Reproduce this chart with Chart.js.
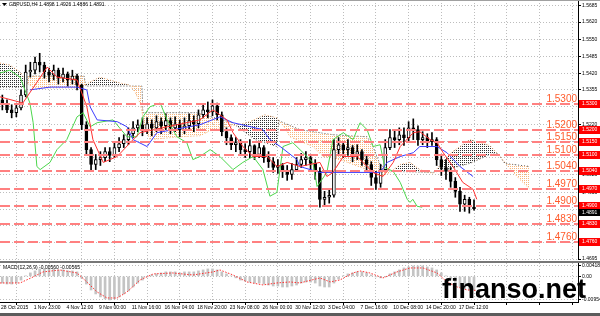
<!DOCTYPE html>
<html>
<head>
<meta charset="utf-8">
<script src="https://cdn.jsdelivr.net/npm/chart.js@4.4.0/dist/chart.umd.min.js"></script>
<style>
  html, body { margin: 0; padding: 0; background: #fff; }
  #wrap { position: relative; width: 600px; height: 316px; overflow: hidden; background: #fff; }
  #priceChart { position: absolute; left: 0; top: 0; }
  #macdChart { position: absolute; left: 0; top: 263px; }
  .band { position: absolute; left: 0; width: 600px; }
  #mark { position: absolute; left: 442px; top: 274px; line-height: 26px; font: bold 27px "Liberation Sans", Arial, sans-serif; color: #000; white-space: nowrap; }
</style>
</head>
<body>
<div id="wrap">
  <canvas id="priceChart" width="600" height="261"></canvas>
  <div class="band" style="top:0;height:1px;background:#a0a0a0"></div>
  <div class="band" style="top:261px;height:2px;background:#777"></div>
  <canvas id="macdChart" width="600" height="53"></canvas>
  <div class="band" style="top:313px;height:3px;background:#5c5c5c"></div>
  <div id="mark">finanso.net</div>
</div>
<script>
// GBPUSD H4, one entry per candle
const firstOpen = 1.5316;
const closes = [1.5297,1.5277,1.5266,1.5285,1.5335,1.5425,1.5432,1.5463,1.5452,1.5425,
  1.5413,1.5432,1.5401,1.5417,1.5394,1.5409,1.5374,1.5219,1.5122,1.5064,
  1.5083,1.5091,1.5114,1.5099,1.5130,1.5145,1.5161,1.5184,1.5207,1.5219,
  1.5200,1.5223,1.5207,1.5231,1.5215,1.5235,1.5207,1.5223,1.5200,1.5215,
  1.5235,1.5223,1.5258,1.5277,1.5269,1.5293,1.5258,1.5192,1.5169,1.5141,
  1.5149,1.5122,1.5114,1.5138,1.5103,1.5130,1.5091,1.5075,1.5052,1.5060,
  1.5037,1.5025,1.5044,1.5064,1.5083,1.5091,1.5068,1.5037,1.4928,1.4936,
  1.4944,1.5122,1.5141,1.5122,1.5130,1.5103,1.5114,1.5083,1.5064,1.5013,
  1.4990,1.5044,1.5130,1.5169,1.5161,1.5180,1.5169,1.5207,1.5200,1.5161,
  1.5169,1.5153,1.5161,1.5083,1.5052,1.5037,1.4998,1.4959,1.4909,1.4928,
  1.4898,1.4891];
const highs = [1.5335,1.5316,1.5297,1.5300,1.5355,1.5452,1.5463,1.5483,1.5498,1.5463,
  1.5440,1.5452,1.5440,1.5440,1.5425,1.5432,1.5417,1.5378,1.5231,1.5130,
  1.5103,1.5114,1.5130,1.5130,1.5153,1.5169,1.5180,1.5207,1.5231,1.5238,
  1.5246,1.5246,1.5238,1.5254,1.5246,1.5262,1.5246,1.5250,1.5238,1.5246,
  1.5262,1.5254,1.5277,1.5300,1.5308,1.5316,1.5304,1.5269,1.5207,1.5180,
  1.5169,1.5161,1.5145,1.5161,1.5141,1.5153,1.5138,1.5114,1.5091,1.5083,
  1.5068,1.5060,1.5068,1.5091,1.5107,1.5114,1.5103,1.5083,1.5052,1.4959,
  1.4967,1.5161,1.5169,1.5153,1.5161,1.5138,1.5141,1.5122,1.5099,1.5075,
  1.5037,1.5064,1.5161,1.5200,1.5200,1.5207,1.5207,1.5231,1.5242,1.5215,
  1.5192,1.5184,1.5188,1.5169,1.5099,1.5083,1.5052,1.5013,1.4975,1.4944,
  1.4936,1.4926];
const lows = [1.5277,1.5266,1.5246,1.5250,1.5277,1.5328,1.5405,1.5417,1.5425,1.5401,
  1.5386,1.5394,1.5378,1.5386,1.5370,1.5378,1.5355,1.5200,1.5103,1.5037,
  1.5044,1.5060,1.5075,1.5075,1.5091,1.5114,1.5130,1.5141,1.5169,1.5192,
  1.5176,1.5184,1.5176,1.5192,1.5184,1.5200,1.5184,1.5192,1.5172,1.5184,
  1.5200,1.5192,1.5207,1.5246,1.5246,1.5254,1.5238,1.5176,1.5141,1.5122,
  1.5114,1.5103,1.5091,1.5091,1.5083,1.5091,1.5072,1.5052,1.5033,1.5029,
  1.5013,1.5002,1.5006,1.5037,1.5052,1.5060,1.5044,1.5006,1.4897,1.4905,
  1.4913,1.4936,1.5099,1.5091,1.5099,1.5075,1.5083,1.5060,1.5037,1.4982,
  1.4967,1.4975,1.5037,1.5122,1.5130,1.5141,1.5138,1.5153,1.5161,1.5138,
  1.5141,1.5130,1.5138,1.5060,1.5021,1.5006,1.4975,1.4936,1.4881,1.4881,
  1.4874,1.4886];

// Ichimoku lines as [candle index, price]
const tenkan = [[-0.5,1.5328],[4.4,1.5304],[9.6,1.5444],[11.7,1.5405],[16,1.5394],[18.1,1.5289],[19.4,1.5161],
  [21.6,1.5072],[24.6,1.5095],[28,1.5161],[29.5,1.5188],[35.3,1.5211],[42.3,1.5238],[45.1,1.5277],[48.1,1.5238],
  [49.4,1.5188],[51.5,1.5134],[53.7,1.5095],[56.7,1.5095],[58.8,1.5056],[61,1.5072],[63.7,1.5056],[68,1.5072],
  [69.5,1.5017],[70.8,1.5033],[73,1.5095],[76,1.5095],[77.2,1.5072],[79.4,1.5033],[81.5,1.5017],[83.7,1.5072],
  [85.2,1.5134],[88,1.5188],[89.4,1.5192],[91.6,1.5161],[93.1,1.5149],[94.4,1.5110],[96.5,1.5056],[98.6,1.4994],
  [100.8,1.4967],[101.6,1.4928]];
const kijun = [[5.9,1.5355],[10.2,1.5366],[16,1.5366],[18.1,1.5355],[18.8,1.5289],[20.3,1.5238],[24.6,1.5231],
  [26.7,1.5211],[28,1.5161],[31,1.5134],[33.1,1.5188],[42.3,1.5219],[46.6,1.5250],[49.4,1.5227],[55.8,1.5200],
  [57.3,1.5161],[59.5,1.5134],[63.1,1.5083],[63.7,1.5056],[68,1.5033],[80.9,1.5033],[82.4,1.5072],[85.2,1.5095],
  [88,1.5110],[89.4,1.5134],[93.1,1.5134],[95.2,1.5110],[98,1.5056],[100.8,1.5017]];
const chikou = [[-0.5,1.5421],[1.6,1.5432],[3.8,1.5405],[5.9,1.5304],[6.6,1.5227],[7.4,1.5056],[8.1,1.5044],
  [10.2,1.5072],[11.7,1.5122],[13.8,1.5161],[16,1.5250],[17.3,1.5266],[18.8,1.5211],[20.3,1.5227],[23.7,1.5238],
  [26.7,1.5172],[28.8,1.5172],[30.1,1.5250],[31.6,1.5289],[33.8,1.5304],[35.3,1.5238],[37.4,1.5172],[39.5,1.5149],
  [40.8,1.5083],[42.3,1.5095],[44.5,1.5122],[46.6,1.5095],[49.4,1.5044],[51.5,1.5072],[53.7,1.5095],[55.8,1.5044],
  [57.3,1.4940],[58.8,1.4955],[60.1,1.5134],[62.2,1.5149],[64.4,1.5110],[66.5,1.5072],[67.4,1.4978],[69.5,1.5033],
  [70.8,1.5161],[73,1.5188],[75.1,1.5161],[76.6,1.5227],[78.1,1.5200],[79.4,1.5134],[80.9,1.5141],[81.9,1.5052],
  [83.7,1.5037],[85.2,1.4994],[86.7,1.4928],[87.3,1.4916],[87.9,1.4928],[88.8,1.4901],[89.9,1.4897]];
const spanA = [[-0.5,1.5460],[1.6,1.5452],[3.8,1.5425],[5.5,1.5378],[6.8,1.5363],[16.6,1.5363],[18.8,1.5386],
  [20.9,1.5405],[25.2,1.5382],[27.3,1.5374],[28.4,1.5347],[29.5,1.5304],[30.5,1.5215],[31.6,1.5161],[38,1.5172],
  [42.3,1.5176],[44.5,1.5196],[46.6,1.5207],[49.4,1.5215],[53,1.5231],[56.2,1.5258],[58.8,1.5246],[60.5,1.5207],
  [61.6,1.5172],[66.5,1.5134],[68.7,1.5095],[72.3,1.5083],[78.1,1.5044],[80.9,1.5017],[83,1.5033],[85.2,1.5064],
  [87.3,1.5072],[89.4,1.5044],[92.2,1.5029],[93.7,1.5060],[95.9,1.5107],[98,1.5134],[100.1,1.5161],[102.3,1.5149],
  [104.4,1.5138],[106.6,1.5095],[108.7,1.5048],[110.8,1.5006],[113,1.4967]];
const spanB = [[-0.5,1.5366],[5.1,1.5366],[5.5,1.5409],[17.5,1.5409],[17.9,1.5370],[29.9,1.5370],[30.1,1.5266],
  [41.5,1.5266],[45.5,1.5246],[49.2,1.5227],[54.1,1.5161],[58.8,1.5134],[59.2,1.5235],[63.7,1.5200],[70.8,1.5180],
  [78.1,1.5172],[79.2,1.5141],[80.9,1.5064],[83,1.5037],[92.2,1.5033],[95.9,1.5048],[100.1,1.5068],[104.4,1.5103],
  [106.1,1.5107],[107.6,1.5068],[113,1.5056]];

// MACD(12,26,9)
const macdMain = [-0.0027,-0.0031,-0.0031,-0.0027,-0.0015,0.0002,0.0014,0.0022,0.0030,0.0030,
  0.0030,0.0030,0.0026,0.0026,0.0022,0.0022,0.0018,-0.0007,-0.0031,-0.0055,
  -0.0071,-0.0083,-0.0091,-0.0095,-0.0091,-0.0083,-0.0071,-0.0059,-0.0043,-0.0027,
  -0.0015,-0.0002,0.0006,0.0010,0.0014,0.0018,0.0018,0.0018,0.0014,0.0018,
  0.0018,0.0018,0.0022,0.0026,0.0030,0.0030,0.0026,0.0018,0.0010,0.0002,
  -0.0006,-0.0015,-0.0019,-0.0023,-0.0027,-0.0027,-0.0031,-0.0035,-0.0039,-0.0039,
  -0.0043,-0.0043,-0.0039,-0.0035,-0.0027,-0.0023,-0.0023,-0.0027,-0.0039,-0.0043,
  -0.0043,-0.0027,-0.0011,0.0002,0.0010,0.0014,0.0018,0.0018,0.0014,0.0006,
  -0.0002,-0.0006,-0.0002,0.0010,0.0018,0.0026,0.0034,0.0038,0.0042,0.0042,
  0.0042,0.0038,0.0034,0.0026,0.0014,0.0002,-0.0011,-0.0027,-0.0043,-0.0051,
  -0.0055,-0.0056];
const macdSignal = [[-0.5,-0.00266],[3.8,-0.00266],[6.6,-0.00024],[8.7,0.00178],[12.3,0.00258],[16,0.00137],
  [18.1,-0.00226],[20.3,-0.0063],[22.4,-0.00872],[24.6,-0.00872],[26.7,-0.0063],[29.5,-0.00145],[32.3,0.00097],
  [36.5,0.00137],[40.8,0.00056],[45.1,0.00178],[46.6,0.00258],[49.4,0.00056],[52.4,-0.00226],[55.8,-0.00347],
  [58.8,-0.00266],[61.6,-0.00226],[63.7,-0.00266],[68,-0.00065],[70.2,-0.00226],[72.3,-0.00145],[75.1,0.00137],
  [76.6,0.00218],[78.7,0.00137],[81.5,-0.00065],[84.5,0.00178],[87.3,0.00339],[90.1,0.00339],[93.1,0.00137],
  [95.2,-0.00226],[97.4,-0.00428],[99.5,-0.00549],[101.4,-0.00565]];

const dateLabels = ['28 Oct 2015','1 Nov 23:00','4 Nov 12:00','9 Nov 00:00','11 Nov 16:00','16 Nov 04:00',
  '18 Nov 20:00','23 Nov 08:00','26 Nov 00:00','30 Nov 12:00','3 Dec 04:00','7 Dec 16:00','10 Dec 08:00',
  '14 Dec 20:00','17 Dec 12:00','','',''];
const barsPerLabel = 7;
const priceTicks = [1.4695,1.4760,1.4825,1.4890,1.4955,1.5025,1.5090,1.5155,1.5220,1.5290,
  1.5355,1.5420,1.5485,1.5550,1.5620,1.5685];
const levels = [1.5300,1.5200,1.5150,1.5100,1.5040,1.4970,1.4900,1.4830,1.4760];
const macdTicks = [-0.00954, 0, 0.00418];
const macdTickText = ['-0.00954', '0.00', '0.00418'];
const lastBar = { open: 1.4898, high: 1.4926, low: 1.4886, close: 1.4891 };
const macdNow = ['-0.00560', '-0.00565'];

Chart.defaults.font.family = '"Liberation Sans", Arial, sans-serif';
const tiny = { family: '"Liberation Sans", Arial, sans-serif', size: 5 };
const xMin = -0.5, xMax = 123.27;

const opens = closes.map((c, i) => (i === 0 ? firstOpen : closes[i - 1]));
const toXY = p => ({ x: p[0], y: p[1] });

const priceCtx = document.getElementById('priceChart').getContext('2d');
// sparse dot tile for the cloud
function dots(color) {
  const tile = document.createElement('canvas');
  tile.width = 2; tile.height = 2;
  const t = tile.getContext('2d');
  t.fillStyle = color;
  t.fillRect(0, 0, 1, 1);
  return priceCtx.createPattern(tile, 'repeat');
}

function dateTicks(scale) {
  scale.ticks = dateLabels.map((d, k) => ({ value: k * barsPerLabel - 0.5 }));
}
function fixedWidth(scale) {
  scale.width = 22;
  scale.paddingTop = 0;
  scale.paddingBottom = 0;
}

// horizontal levels, axis boxes and the symbol line
const levelPlugin = {
  id: 'levels',
  afterDraw(chart) {
    const { ctx, chartArea: a, scales: { y } } = chart;
    ctx.save();
    levels.forEach(lv => {
      const py = Math.round(y.getPixelForValue(lv));
      ctx.strokeStyle = '#ff8080';
      ctx.lineWidth = 2;
      ctx.setLineDash([10, 4]);
      ctx.beginPath();
      ctx.moveTo(a.left, py);
      ctx.lineTo(a.right, py);
      ctx.stroke();
      ctx.setLineDash([]);
      ctx.font = '10px "Liberation Sans", Arial, sans-serif';
      ctx.fillStyle = '#ff5a2a';
      ctx.textAlign = 'right';
      ctx.textBaseline = 'alphabetic';
      ctx.fillText(lv.toFixed(4), a.right - 1, py - 2);
    });
    ctx.font = '5px "Liberation Sans", Arial, sans-serif';
    ctx.textAlign = 'left';
    ctx.textBaseline = 'middle';
    levels.forEach(lv => {
      const py = Math.round(y.getPixelForValue(lv));
      ctx.fillStyle = '#ff0000';
      ctx.fillRect(a.right + 1, py - 4, 21, 8);
      ctx.fillStyle = '#fff';
      ctx.fillText(lv.toFixed(4), a.right + 4, py);
    });
    const cy = Math.round(y.getPixelForValue(lastBar.close)) + 3;
    ctx.fillStyle = '#000';
    ctx.fillRect(a.right + 1, cy - 3, 21, 7);
    ctx.fillStyle = '#fff';
    ctx.fillText(lastBar.close.toFixed(4), a.right + 4, cy + 0.5);

    ctx.fillStyle = '#000';
    ctx.beginPath();
    ctx.moveTo(2, 3); ctx.lineTo(7, 3); ctx.lineTo(4.5, 6); ctx.closePath();
    ctx.fill();
    const title = 'GBPUSD,H4 ' + [lastBar.open, lastBar.high, lastBar.low, lastBar.close].map(v => v.toFixed(4)).join(' ');
    ctx.fillText(title, 9, 5);
    ctx.restore();
  }
};

const macdLabel = {
  id: 'macdLabel',
  afterDraw(chart) {
    const { ctx } = chart;
    ctx.save();
    ctx.font = '5px "Liberation Sans", Arial, sans-serif';
    ctx.fillStyle = '#000';
    ctx.textBaseline = 'middle';
    ctx.fillText('MACD(12,26,9) ' + macdNow.join(' '), 3, 5);
    ctx.restore();
  }
};

new Chart(priceCtx, {
  type: 'line',
  data: {
    datasets: [
      { type: 'line', data: spanA.map(toXY), borderColor: '#f3a868', borderWidth: 1, borderDash: [1, 2],
        pointRadius: 0, fill: { target: '+1', above: dots('#303030'), below: dots('#f7b57a') }, order: 10 },
      { type: 'line', data: spanB.map(toXY), borderColor: '#555', borderWidth: 1, borderDash: [1, 2],
        pointRadius: 0, fill: false, order: 10 },
      { type: 'bar', data: closes.map((c, i) => ({ x: i, y: [lows[i], highs[i]] })),
        backgroundColor: '#000', barThickness: 1, grouped: false, order: 5 },
      { type: 'bar', data: closes.map((c, i) => ({ x: i, y: [opens[i], c] })),
        backgroundColor: closes.map((c, i) => (c >= opens[i] ? '#fff' : '#000')),
        borderColor: '#000', borderWidth: 1, borderSkipped: false, barThickness: 3, grouped: false, order: 4 },
      { type: 'line', data: chikou.map(toXY), borderColor: '#4cd64c', borderWidth: 1, pointRadius: 0, order: 3 },
      { type: 'line', data: kijun.map(toXY), borderColor: '#3c3cff', borderWidth: 1, pointRadius: 0, order: 2 },
      { type: 'line', data: tenkan.map(toXY), borderColor: '#ff3030', borderWidth: 1, pointRadius: 0, order: 1 }
    ]
  },
  options: {
    responsive: false,
    animation: false,
    devicePixelRatio: 1,
    layout: { padding: { top: 0, bottom: 2, left: 0, right: 0 } },
    plugins: { legend: { display: false }, tooltip: { enabled: false } },
    scales: {
      x: {
        type: 'linear', min: xMin, max: xMax, offset: false,
        afterBuildTicks: dateTicks,
        afterFit: s => { s.height = 0; s.paddingLeft = 0; s.paddingRight = 0; },
        ticks: { display: false },
        grid: { color: '#bdbdbd', drawTicks: false },
        border: { display: false, dash: [1, 2] }
      },
      y: {
        position: 'right', min: 1.4695, max: 1.5706,
        afterBuildTicks: s => { s.ticks = priceTicks.map(v => ({ value: v })); },
        afterFit: fixedWidth,
        ticks: { autoSkip: false, padding: 1, color: '#000', font: tiny, callback: v => v.toFixed(4) },
        grid: { color: '#bdbdbd', tickColor: '#000', tickLength: 3 },
        border: { display: true, color: '#000', dash: [1, 2] }
      }
    }
  },
  plugins: [levelPlugin]
});

new Chart(document.getElementById('macdChart'), {
  type: 'line',
  data: {
    datasets: [
      { type: 'line', data: macdSignal.map(toXY), borderColor: '#ff3030', borderWidth: 1, borderDash: [1.5, 1.5],
        pointRadius: 0, order: 1 },
      { type: 'bar', data: macdMain.map((v, i) => ({ x: i, y: v })), backgroundColor: '#c4c4c4',
        barThickness: 2, grouped: false, order: 2 }
    ]
  },
  options: {
    responsive: false,
    animation: false,
    devicePixelRatio: 1,
    layout: { padding: 0 },
    plugins: { legend: { display: false }, tooltip: { enabled: false } },
    scales: {
      x: {
        type: 'linear', min: xMin, max: xMax, offset: false,
        afterBuildTicks: dateTicks,
        afterFit: s => { s.height = 14; s.paddingLeft = 0; s.paddingRight = 0; },
        ticks: { autoSkip: false, maxRotation: 0, align: 'start', padding: 0, labelOffset: 1, color: '#000',
          font: tiny, callback: (v, i) => dateLabels[i] },
        grid: { color: '#bdbdbd', tickColor: '#000', tickLength: 3 },
        border: { display: true, color: '#000', dash: [1, 2] }
      },
      y: {
        position: 'right', min: -0.01035, max: 0.00539,
        afterBuildTicks: s => { s.ticks = macdTicks.map(v => ({ value: v })); },
        afterFit: fixedWidth,
        ticks: { autoSkip: false, padding: 1, color: '#000', font: tiny, callback: (v, i) => macdTickText[i] },
        grid: { color: '#bdbdbd', tickColor: '#000', tickLength: 3 },
        border: { display: true, color: '#000', dash: [1, 2] }
      }
    }
  },
  plugins: [macdLabel]
});
</script>
</body>
</html>
